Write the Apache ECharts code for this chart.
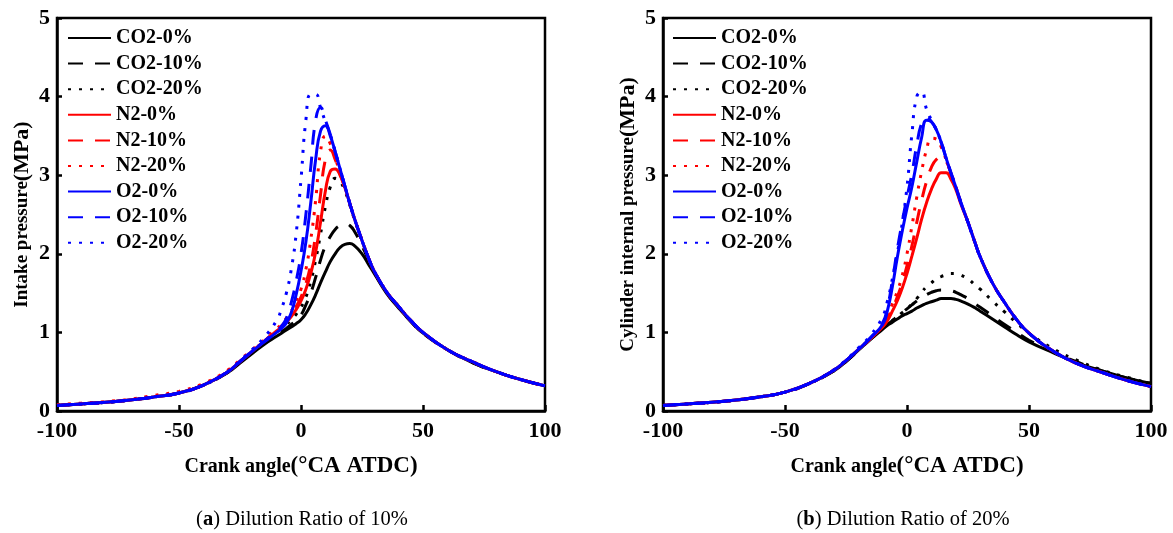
<!DOCTYPE html>
<html>
<head>
<meta charset="utf-8">
<script src="https://cdn.jsdelivr.net/npm/echarts@6/dist/echarts.min.js"></script>
<style>
  html, body { margin: 0; padding: 0; background: #fff; }
  #chart { width: 1173px; height: 533px; }
</style>
</head>
<body>
<div id="chart"></div>
<script>
// Crank angle samples (°CA ATDC) shared by every curve
const angle = [-100,-90,-80,-70,-60,-50,-40,-30,-25,-20,-15,-10,-8,-6,-4,-2,0,2,4,6,8,10,12,14,16,18,20,22,25,28,30,35,40,45,50,60,70,80,90,100];

const seriesNames = ['CO2-0%','CO2-10%','CO2-20%','N2-0%','N2-10%','N2-20%','O2-0%','O2-10%','O2-20%'];

// (a) Dilution ratio 10% — intake pressure (MPa)
const a_co2_0  = [.07,.09,.11,.14,.18,.23,.33,.49,.61,.73,.85, .95,.99,1.03,1.07,1.11,1.16,1.24,1.35,1.48,1.63,1.77,1.90,2.00,2.08,2.12,2.13,2.10, 2.00,1.85, 1.75,1.50,1.31,1.14,.99,.78,.62,.50,.40,.32];
const a_co2_10 = [.07,.09,.11,.14,.18,.23,.33,.49,.62,.74,.86, .97,1.01,1.05,1.10,1.15,1.22,1.35,1.50,1.70,1.92,2.10,2.22,2.31,2.36,2.38,2.36,2.28, 2.10,1.90, 1.77,1.51,1.32,1.14,.99,.78,.62,.50,.40,.32];
const a_co2_20 = [.07,.09,.11,.14,.18,.23,.33,.50,.63,.76,.88, 1.00,1.05,1.10,1.16,1.23,1.32,1.45,1.65,1.92,2.25,2.60,2.85,2.96,2.92,2.80,2.62,2.43, 2.17,1.92, 1.78,1.52,1.33,1.15,1.00,.78,.63,.50,.40,.32];
const a_n2_0   = [.07,.09,.11,.14,.18,.23,.33,.50,.63,.76,.89, 1.02,1.07,1.13,1.20,1.29,1.40,1.55,1.75,2.02,2.40,2.80,3.05,3.08,3.00,2.84,2.64,2.44, 2.17,1.92, 1.78,1.52,1.33,1.15,1.00,.78,.63,.50,.40,.32];
const a_n2_10  = [.07,.09,.11,.14,.18,.23,.33,.50,.63,.76,.89, 1.03,1.08,1.15,1.23,1.33,1.45,1.62,1.87,2.25,2.75,3.20,3.32,3.20,3.02,2.84,2.64,2.44, 2.17,1.92, 1.78,1.52,1.33,1.15,1.00,.78,.63,.50,.40,.32];
const a_n2_20  = [.08,.10,.12,.15,.20,.25,.35,.52,.65,.78,.91, 1.05,1.10,1.18,1.27,1.40,1.55,1.80,2.18,2.68,3.30,3.50,3.40,3.22,3.03,2.84,2.64,2.44, 2.17,1.92, 1.78,1.52,1.33,1.15,1.00,.78,.63,.50,.40,.32];
const a_o2_0   = [.07,.09,.11,.14,.18,.23,.33,.50,.63,.76,.88, 1.00,1.05,1.12,1.25,1.48,1.78,2.15,2.65,3.20,3.56,3.63,3.50,3.30,3.08,2.86,2.64,2.44, 2.17,1.92, 1.78,1.52,1.33,1.15,1.00,.78,.63,.50,.40,.32];
const a_o2_10  = [.07,.09,.11,.14,.18,.23,.33,.50,.63,.76,.89, 1.02,1.08,1.18,1.38,1.65,2.00,2.50,3.10,3.70,3.86,3.70,3.52,3.30,3.08,2.86,2.64,2.44, 2.17,1.92, 1.78,1.52,1.33,1.15,1.00,.78,.63,.50,.40,.32];
const a_o2_20  = [.07,.09,.11,.14,.18,.23,.33,.50,.64,.78,.94, 1.15,1.30,1.50,1.80,2.25,2.95,3.70,4.03,4.03,3.86,3.68,3.52,3.30,3.08,2.86,2.64,2.44, 2.17,1.92, 1.78,1.52,1.33,1.15,1.00,.78,.63,.50,.40,.32];

// (b) Dilution ratio 20% — cylinder internal pressure (MPa)
const b_co2_0  = [.07,.09,.11,.14,.18,.24,.35,.51,.63,.77,.91, 1.04,1.09,1.13,1.17,1.21,1.24,1.27,1.31,1.34,1.37,1.39,1.41,1.43,1.43,1.43,1.42,1.40, 1.36,1.31, 1.27,1.17,1.07,.97,.88,.74,.61,.51,.42,.35];
const b_co2_10 = [.07,.09,.11,.14,.18,.24,.35,.51,.63,.77,.91, 1.05,1.10,1.15,1.20,1.25,1.30,1.35,1.40,1.44,1.48,1.51,1.53,1.54,1.54,1.53,1.51,1.48, 1.43,1.36, 1.32,1.21,1.10,1.00,.90,.75,.62,.51,.42,.35];
const b_co2_20 = [.07,.09,.11,.14,.18,.24,.35,.52,.64,.78,.92, 1.06,1.10,1.15,1.20,1.25,1.30,1.36,1.43,1.51,1.58,1.63,1.68,1.71,1.73,1.75,1.75,1.73, 1.68,1.60, 1.55,1.40,1.26,1.12,.99,.79,.64,.52,.43,.35];
const b_n2_0   = [.07,.09,.11,.14,.18,.24,.35,.52,.64,.78,.92, 1.07,1.15,1.27,1.40,1.56,1.75,1.97,2.20,2.44,2.65,2.82,2.95,3.03,3.03,2.95,2.82,2.64, 2.40,2.13, 1.96,1.63,1.38,1.16,.99,.76,.60,.49,.39,.31];
const b_n2_10  = [.07,.09,.11,.14,.18,.24,.35,.52,.64,.78,.92, 1.08,1.18,1.30,1.45,1.63,1.85,2.10,2.40,2.68,2.92,3.10,3.20,3.23,3.18,3.02,2.85,2.66, 2.40,2.13, 1.96,1.63,1.38,1.16,.99,.76,.60,.49,.39,.31];
const b_n2_20  = [.07,.09,.11,.14,.18,.24,.35,.52,.64,.78,.92, 1.10,1.22,1.36,1.52,1.72,2.00,2.35,2.72,3.05,3.32,3.47,3.46,3.36,3.20,3.03,2.85,2.66, 2.40,2.13, 1.96,1.63,1.38,1.16,.99,.76,.60,.49,.39,.31];
const b_o2_0   = [.07,.09,.11,.14,.18,.24,.35,.52,.64,.78,.93, 1.10,1.28,1.58,1.95,2.28,2.58,2.85,3.17,3.48,3.70,3.68,3.58,3.42,3.22,3.03,2.85,2.66, 2.40,2.13, 1.96,1.63,1.38,1.16,.99,.76,.60,.49,.39,.31];
const b_o2_10  = [.07,.09,.11,.14,.18,.24,.35,.52,.64,.78,.93, 1.12,1.32,1.66,2.05,2.40,2.72,3.02,3.38,3.66,3.74,3.68,3.58,3.42,3.22,3.03,2.85,2.66, 2.40,2.13, 1.96,1.63,1.38,1.16,.99,.76,.60,.49,.39,.31];
const b_o2_20  = [.07,.09,.11,.14,.18,.24,.35,.52,.65,.80,.96, 1.20,1.40,1.68,2.00,2.38,2.85,3.52,4.00,4.06,3.84,3.70,3.58,3.42,3.22,3.03,2.85,2.66, 2.40,2.13, 1.96,1.63,1.38,1.16,.99,.76,.60,.49,.39,.31];

const xTicks = [-100, -50, 0, 50, 100];
const yTicks = [0, 1, 2, 3, 4, 5];

const panelA = [a_co2_0, a_co2_10, a_co2_20, a_n2_0, a_n2_10, a_n2_20, a_o2_0, a_o2_10, a_o2_20];
const panelB = [b_co2_0, b_co2_10, b_co2_20, b_n2_0, b_n2_10, b_n2_20, b_o2_0, b_o2_10, b_o2_20];

const FONT = '"Liberation Serif", "Times New Roman", serif';
const colors = ['#000000', '#000000', '#000000', '#ff0000', '#ff0000', '#ff0000', '#0000ff', '#0000ff', '#0000ff'];
const dashes = ['solid', [15, 12], [3, 8], 'solid', [15, 12], [3, 8], 'solid', [15, 12], [3, 8]];

function pairs(vals) {
  return angle.map((x, i) => [x, vals[i]]);
}

function buildSeries(panel, idx) {
  return panel.map((vals, k) => ({
    name: seriesNames[k],
    type: 'line',
    xAxisIndex: idx,
    yAxisIndex: idx,
    data: pairs(vals),
    showSymbol: false,
    symbol: 'none',
    smooth: 0.5,
    color: colors[k],
    lineStyle: { color: colors[k], width: 3, type: dashes[k] },
    emphasis: { disabled: true },
    z: 2 + k
  }));
}

const xNameRich = {
  s: { fontFamily: FONT, fontWeight: 'bold', fontSize: 20, color: '#000' },
  l: { fontFamily: FONT, fontWeight: 'bold', fontSize: 23, color: '#000' }
};
const yNameRich = {
  s: { fontFamily: FONT, fontWeight: 'bold', fontSize: 19, color: '#000' },
  l: { fontFamily: FONT, fontWeight: 'bold', fontSize: 22, color: '#000' }
};

function xAxis(gridIndex) {
  return {
    type: 'value', gridIndex,
    min: xTicks[0], max: xTicks[xTicks.length - 1], interval: 50,
    name: '{s|Crank angle}{l|(°CA ATDC)}',
    nameLocation: 'middle', nameGap: 44,
    nameTextStyle: { rich: xNameRich },
    axisLine: { onZero: false, lineStyle: { color: '#000', width: 2.5 } },
    axisTick: { inside: true, length: 6, lineStyle: { color: '#000', width: 2.5 } },
    axisLabel: { fontFamily: FONT, fontWeight: 'bold', fontSize: 22, color: '#000', margin: 9 },
    splitLine: { show: false }
  };
}

function yAxis(gridIndex, label) {
  return {
    type: 'value', gridIndex,
    min: yTicks[0], max: yTicks[yTicks.length - 1], interval: 1,
    name: label,
    nameLocation: 'middle', nameGap: 24, nameRotate: 90,
    nameTextStyle: { rich: yNameRich },
    axisLine: { onZero: false, lineStyle: { color: '#000', width: 2.5 } },
    axisTick: { inside: true, length: 5, lineStyle: { color: '#000', width: 2.5 } },
    axisLabel: { fontFamily: FONT, fontWeight: 'bold', fontSize: 22, color: '#000', margin: 7 },
    splitLine: { show: false }
  };
}

function legend(left) {
  return {
    orient: 'vertical', left, top: 28, padding: 0,
    itemWidth: 43, itemHeight: 20, itemGap: 5.6,
    data: seriesNames,
    selectedMode: false,
    itemStyle: { opacity: 0, borderWidth: 0 },
    textStyle: { fontFamily: FONT, fontWeight: 'bold', fontSize: 20, color: '#000', lineHeight: 20 }
  };
}

const captionRich = {
  p: { fontFamily: FONT, fontSize: 20.5, color: '#000' },
  b: { fontFamily: FONT, fontSize: 20.5, fontWeight: 'bold', color: '#000' }
};

const option = {
  animation: false,
  backgroundColor: '#fff',
  grid: [
    { left: 57, right: 628, top: 18, bottom: 122, show: true, borderColor: '#000', borderWidth: 2.5, backgroundColor: 'transparent' },
    { left: 663, right: 22, top: 18, bottom: 122, show: true, borderColor: '#000', borderWidth: 2.5, backgroundColor: 'transparent' }
  ],
  xAxis: [xAxis(0), xAxis(1)],
  yAxis: [
    yAxis(0, '{s|Intake pressure}{l|(MPa)}'),
    yAxis(1, '{s|Cylinder internal pressure}{l|(MPa)}')
  ],
  legend: [legend(67), legend(672)],
  series: buildSeries(panelA, 0).concat(buildSeries(panelB, 1)),
  graphic: [
    { type: 'text', x: 302, y: 520, style: { text: '{p|(}{b|a}{p|) Dilution Ratio of 10%}', rich: captionRich, align: 'center', verticalAlign: 'middle' } },
    { type: 'text', x: 903, y: 520, style: { text: '{p|(}{b|b}{p|) Dilution Ratio of 20%}', rich: captionRich, align: 'center', verticalAlign: 'middle' } }
  ]
};

const chart = echarts.init(document.getElementById('chart'), null, { renderer: 'canvas' });
chart.setOption(option);
</script>
</body>
</html>
